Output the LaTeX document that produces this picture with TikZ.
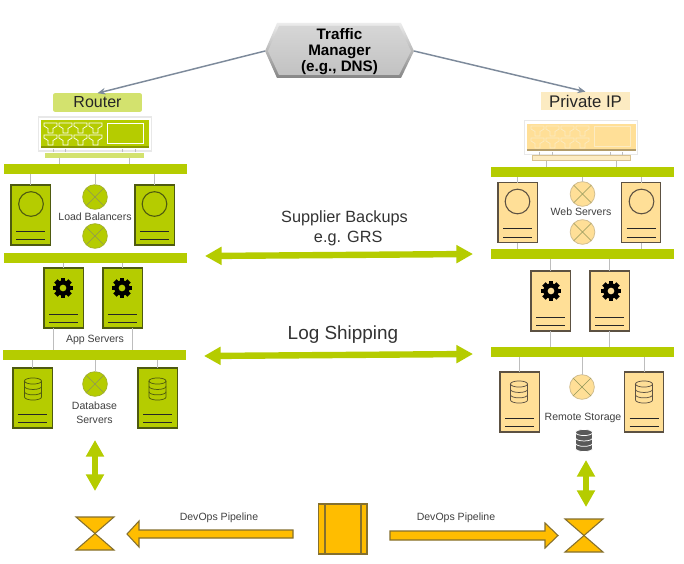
\documentclass[tikz,border=0pt]{standalone}
\usepackage{fontspec}
\setmainfont{Liberation Sans}
\usetikzlibrary{arrows.meta}
\definecolor{lime}{HTML}{B5CC00}
\definecolor{limelabel}{HTML}{D3E26E}
\definecolor{limeedge}{HTML}{4E5A10}
\definecolor{cream}{HTML}{FFDF97}
\definecolor{creamlabel}{HTML}{FCEBC2}
\definecolor{creamedge}{HTML}{5C5142}
\definecolor{amber}{HTML}{FFBD00}
\definecolor{amberedge}{HTML}{85702E}
\definecolor{wire}{HTML}{BDBDBD}
\definecolor{slate}{HTML}{7D8A9B}
\definecolor{txt}{HTML}{404040}
\tikzset{
  srvgreen/.style={draw=limeedge,fill=lime,line width=.8pt,minimum width=29.5pt,minimum height=45pt,inner sep=0pt,outer sep=0pt,anchor=north west},
  srvcream/.style={draw=creamedge,fill=cream,line width=.8pt,minimum width=29.5pt,minimum height=45pt,inner sep=0pt,outer sep=0pt,anchor=north west},
  busbar/.style={fill=lime,minimum width=137pt,minimum height=7.5pt,inner sep=0pt,outer sep=0pt,anchor=north west},
  wirelink/.style={draw=wire,line width=.7pt},
  xgreen/.style={circle,draw=lime!70!gray,fill=lime,line width=.6pt,minimum size=18.5pt,inner sep=0pt,outer sep=0pt},
  xcream/.style={circle,draw=cream!65!gray,fill=cream,line width=.6pt,minimum size=18.5pt,inner sep=0pt,outer sep=0pt},
  xline/.style={draw=gray!70!lime,line width=.45pt},
  small/.style={font=\fontsize{7.9}{10.4}\selectfont,text=txt,inner sep=0pt,align=center},
  biglabel/.style={font=\fontsize{12.2}{15}\selectfont,text=black!80,inner sep=0pt,align=center},
  blockline/.style={draw=lime,line width=4.8pt,{Triangle[length=12.5pt,width=13pt]}-{Triangle[length=12.5pt,width=13pt]}},
  ambershape/.style={draw=amberedge,fill=amber,line width=.8pt,line join=miter},
  feed/.style={draw=slate,line width=1.1pt,-{Stealth[length=6pt,width=5pt]}},
}
\newcommand{\srvlines}[1]{%
  \draw[black!85,line width=.65pt] (#1.north west) ++(5,46) -- ++(29,0);
  \draw[black!85,line width=.65pt] (#1.north west) ++(5,54.5) -- ++(29,0);}
\newcommand{\ringicon}[3]{\node[circle,draw=#3,line width=.8pt,minimum size=18.5pt,inner sep=0pt] (#1) at #2 {};}
\newcommand{\gearicon}[2]{%
  \begin{scope}[shift={#1}]
    \foreach \a in {0,45,...,315}{\fill[black,rotate=\a] (-2.4,-10) rectangle (2.4,0);}
    \fill[black] (0,0) circle[radius=5.8pt];
    \fill[#2] (0,0) circle[radius=2.5pt];
  \end{scope}}
\newcommand{\dbicon}[4]{%
  \begin{scope}[shift={#1},draw=#2,line width=.55pt]
    \filldraw[fill=#3] (-8.5,-8) -- (-8.5,8) arc[start angle=180,end angle=360,x radius=6.4pt,y radius=2.3pt] -- (8.5,-8) arc[start angle=0,end angle=180,x radius=6.4pt,y radius=2.3pt] -- cycle;
    \draw[#4] (-8.5,-8) arc[start angle=180,end angle=360,x radius=6.4pt,y radius=2.3pt];
    \draw[#4] (-8.5,-2.6) arc[start angle=180,end angle=360,x radius=6.4pt,y radius=2.3pt];
    \draw[#4] (-8.5,2.8) arc[start angle=180,end angle=360,x radius=6.4pt,y radius=2.3pt];
  \end{scope}}
\newcommand{\teeicon}[3]{\draw[#3,line width=.55pt] (#1,#2) -- ++(13,0) -- ++(0,3) -- ++(-4,2.5) -- ++(0,4.5) -- ++(-5,0) -- ++(0,-4.5) -- ++(-4,-2.5) -- cycle;}
\newcommand{\crossed}[1]{\draw[xline] (#1.45) -- (#1.225); \draw[xline] (#1.135) -- (#1.315);}
\begin{document}
\begin{tikzpicture}[x=.75pt,y=-.75pt]
\useasboundingbox (0,0) rectangle (684,563);
\fill[white] (0,0) rectangle (684,563);

% Traffic manager
\shade[top color=gray!15,bottom color=gray!95] (277,23) -- (401,23) -- (414,51) -- (401,78) -- (277,78) -- (265,51) -- cycle;
\shade[top color=gray!32,bottom color=gray!48] (279,26) -- (399,26) -- (411,51) -- (399,75) -- (279,75) -- (268,51) -- cycle;
\node[minimum width=111.7pt,minimum height=41.2pt,inner sep=0pt,outer sep=0pt] (tm) at (339.5,51) {};
\node[inner sep=0pt,align=center,font=\fontsize{11.4}{12.1}\selectfont\bfseries,text=black] (tmtext) at (339.5,51.5) {Traffic\\Manager\\(e.g., DNS)};

% Labels
\node[fill=limelabel,rounded corners=1.5pt,minimum width=66.7pt,minimum height=14pt,inner sep=0pt,outer sep=0pt,font=\fontsize{12}{14}\selectfont,text=black!85] (router) at (97.5,102.5) {Router};
\node[fill=creamlabel,minimum width=66.7pt,minimum height=14pt,inner sep=0pt,outer sep=0pt,font=\fontsize{12.6}{14}\selectfont,text=black!85] (privip) at (585.5,101) {Private IP};
\draw[feed] (tm.west) -- (router.north);
\draw[feed] (tm.east) -- (privip.north);

% Left bars
\node[busbar] (lb1) at (4,164) {};
\node[busbar] (lb2) at (4,253) {};
\node[busbar] (lb3) at (3,350) {};
% Right bars
\node[busbar] (rb1) at (491,167) {};
\node[busbar] (rb2) at (491,249) {};
\node[busbar] (rb3) at (491,347) {};

% Left router
\node[fill=limelabel,minimum width=74pt,minimum height=3.8pt,inner sep=0pt,outer sep=0pt,anchor=north west] (lplate) at (45,152.5) {};
\node[fill=white,draw=gray!18,line width=.8pt,minimum width=85pt,minimum height=25.5pt,inner sep=0pt,outer sep=0pt] (lrt) at (95,134) {};
\fill[lime] (41,120.5) rectangle (149,148);
\fill[lime!75!black] (41,146) rectangle (149,148);
\foreach \c in {44,59,74,89}{\teeicon{\c}{123}{white}\teeicon{\c}{135}{white}}
\draw[white,line width=.7pt] (107,123) rectangle (143,143);
\foreach \c in {53,65,122,135}{\draw[wirelink] (\c,149) -- (\c,152);}
\path (lplate.south west) +(14,0) coordinate (lp1) +(84,0) coordinate (lp2);
\draw[wirelink] (lp1) -- (lp1 |- lb1.north);
\draw[wirelink] (lp2) -- (lp2 |- lb1.north);

% Right router
\node[fill=creamlabel,draw=cream!70!gray,line width=.4pt,minimum width=73.5pt,minimum height=3.8pt,inner sep=0pt,outer sep=0pt,anchor=north west] (rplate) at (532,155.5) {};
\node[fill=white,draw=gray!18,line width=.8pt,minimum width=85pt,minimum height=26pt,inner sep=0pt,outer sep=0pt] (rrt) at (581,137.5) {};
\fill[cream] (527,124) rectangle (636,151);
\fill[cream!70!black] (527,149) rectangle (636,151);
\foreach \c in {531,546,561,576}{\teeicon{\c}{126}{creamlabel}\teeicon{\c}{138}{creamlabel}}
\draw[creamlabel,line width=.7pt] (594,126) rectangle (630,146);
\foreach \c in {539,552,610,622}{\draw[wirelink] (\c,152) -- (\c,155);}
\path (rplate.south west) +(14,0) coordinate (rp1) +(84,0) coordinate (rp2);
\draw[wirelink] (rp1) -- (rp1 |- rb1.north);
\draw[wirelink] (rp2) -- (rp2 |- rb1.north);

% Left servers
\node[srvgreen] (ls1) at (11,185) {};
\node[srvgreen] (ls2) at (135,185) {};
\node[srvgreen] (la1) at (44,268) {};
\node[srvgreen] (la2) at (103,268) {};
\node[srvgreen] (ld1) at (13,368) {};
\node[srvgreen] (ld2) at (138,368) {};
\foreach \n in {ls1,ls2,la1,la2,ld1,ld2}{\srvlines{\n}}
\ringicon{lr1}{(31,204)}{limeedge}
\ringicon{lr2}{(154.5,204)}{limeedge}
\gearicon{(63,288)}{lime}
\gearicon{(122,288)}{lime}
\dbicon{(33,389)}{limeedge}{lime}{limeedge}
\dbicon{(157.5,389)}{limeedge}{lime}{limeedge}

% Left X circles
\node[xgreen] (lx1) at (95,197) {};
\node[xgreen] (lx2) at (95,236) {};
\node[xgreen] (lx3) at (95,384) {};
\crossed{lx1}\crossed{lx2}\crossed{lx3}
\node[small] (tlb) at (95,217) {Load Balancers};
\node[small] (tas) at (95,340) {App Servers};
\node[small] (tdb) at (94.5,413) {Database\\Servers};

% Left links
\draw[wirelink] (ls1.north) -- (ls1.north |- lb1.south);
\draw[wirelink] (ls2.north) -- (ls2.north |- lb1.south);
\draw[wirelink] (lx1.north) -- (lx1.north |- lb1.south);
\draw[wirelink] (la1.north) -- (la1.north |- lb2.south);
\draw[wirelink] (la2.north) -- (la2.north |- lb2.south);
\path (la1.south) +(-10,0) coordinate (la1d);
\path (la2.south) +(10,0) coordinate (la2d);
\draw[wirelink] (la1d) -- (la1d |- lb3.north);
\draw[wirelink] (la2d) -- (la2d |- lb3.north);
\draw[wirelink] (ld1.north) -- (ld1.north |- lb3.south);
\draw[wirelink] (ld2.north) -- (ld2.north |- lb3.south);
\draw[wirelink] (lx3.north) -- (lx3.north |- lb3.south);

% Right servers
\node[srvcream] (rs1) at (498,182.5) {};
\node[srvcream] (rs2) at (621.5,182.5) {};
\node[srvcream] (ra1) at (531,271) {};
\node[srvcream] (ra2) at (590,271) {};
\node[srvcream] (rd1) at (500,372) {};
\node[srvcream] (rd2) at (624.5,372) {};
\foreach \n in {rs1,rs2,ra1,ra2,rd1,rd2}{\srvlines{\n}}
\ringicon{rr1}{(517.5,201.5)}{creamedge}
\ringicon{rr2}{(641.5,201.5)}{creamedge}
\gearicon{(551,291)}{cream}
\gearicon{(611,291)}{cream}
\dbicon{(519,392)}{creamedge}{cream}{creamedge}
\dbicon{(644,392)}{creamedge}{cream}{creamedge}
\dbicon{(584,440.5)}{white}{black!65}{white}

% Right X circles
\node[xcream] (rx1) at (582.5,194) {};
\node[xcream] (rx2) at (582.5,232) {};
\node[xcream] (rx3) at (582,387) {};
\crossed{rx1}\crossed{rx2}\crossed{rx3}
\node[small] (tws) at (581,212) {Web Servers};
\node[small] (trs) at (583,417.5) {Remote Storage};

% Right links
\draw[wirelink] (rs1.north) -- (rs1.north |- rb1.south);
\draw[wirelink] (rs2.north) -- (rs2.north |- rb1.south);
\draw[wirelink] (rx1.north) -- (rx1.north |- rb1.south);
\draw[wirelink] (rs1.south) -- (rs1.south |- rb2.north);
\draw[wirelink] (rs2.south) -- (rs2.south |- rb2.north);
\draw[wirelink] (ra1.north) -- (ra1.north |- rb2.south);
\draw[wirelink] (ra2.north) -- (ra2.north |- rb2.south);
\draw[wirelink] (ra1.south) -- (ra1.south |- rb3.north);
\draw[wirelink] (ra2.south) -- (ra2.south |- rb3.north);
\draw[wirelink] (rd1.north) -- (rd1.north |- rb3.south);
\draw[wirelink] (rd2.north) -- (rd2.north |- rb3.south);
\draw[wirelink] (rx3.north) -- (rx3.north |- rb3.south);

% Middle arrows and labels
\node[biglabel] (tsb) at (344.5,228) {Supplier Backups\\\hspace*{5.5pt}e.g. GRS};
\node[font=\fontsize{14.2}{16}\selectfont,text=black!80,inner sep=0pt] (tls) at (343,335) {Log Shipping};
\coordinate (sbl) at (205,256);
\coordinate (sbr) at (473,254);
\coordinate (lsl) at (204,356);
\coordinate (lsr) at (473,354);
\draw[blockline] (sbl) -- (sbr);
\draw[blockline] (lsl) -- (lsr);

% Bottom row
\coordinate (hgl) at (95,533.5);
\coordinate (hgr) at (584,535.5);
\draw[ambershape] (hgl) -- (76,517) -- (114,517) -- cycle;
\draw[ambershape] (hgl) -- (76,550) -- (114,550) -- cycle;
\draw[ambershape] (hgr) -- (565,519) -- (603,519) -- cycle;
\draw[ambershape] (hgr) -- (565,552) -- (603,552) -- cycle;

\coordinate (vlt) at (95,440);
\coordinate (vlb) at (95,491);
\coordinate (vrt) at (586,460);
\coordinate (vrb) at (586,507);
\draw[blockline] (vlt) -- (vlb);
\draw[blockline] (vrt) -- (vrb);

\node[draw=amberedge,fill=amber,line width=.8pt,minimum width=36.7pt,minimum height=37.5pt,inner sep=0pt,outer sep=0pt] (pkg) at (342.5,529) {};
\draw[amberedge,line width=1pt] (325,504) -- (325,554);
\draw[amberedge,line width=1pt] (361,504) -- (361,554);

\draw[ambershape] (127,534) -- (139,521) -- (139,530) -- (293,530) -- (293,538) -- (139,538) -- (139,547) -- cycle;
\draw[ambershape] (558,535.5) -- (545,523) -- (545,531) -- (390,531) -- (390,540) -- (545,540) -- (545,548) -- cycle;
\node[small] (tpl) at (219,518) {DevOps Pipeline};
\node[small] (tpr) at (456,518) {DevOps Pipeline};
\end{tikzpicture}
\end{document}
